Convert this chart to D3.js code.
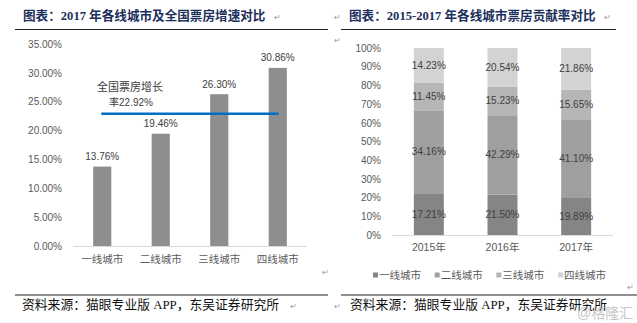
<!DOCTYPE html>
<html><head><meta charset="utf-8">
<script src="https://cdn.jsdelivr.net/npm/d3@7"></script>
<style>
html,body{margin:0;padding:0;background:#fff;}
svg{display:block;}
text{font-family:"Liberation Sans","Noto Sans CJK SC",sans-serif;}
</style></head>
<body>
<svg id="c" width="637" height="323"></svg>
<script>
// ---- data ----
const leftCategories = ["一线城市", "二线城市", "三线城市", "四线城市"];
const leftValues = [13.76, 19.46, 26.30, 30.86];
const nationalGrowth = 22.92;
const nationalLabel = ["全国票房增长", "率22.92%"];
const leftTicks = [0, 5, 10, 15, 20, 25, 30, 35];

const years = ["2015年", "2016年", "2017年"];
const seriesNames = ["一线城市", "二线城市", "三线城市", "四线城市"];
const tier1 = [17.21, 21.50, 19.89];
const tier2 = [34.16, 42.29, 41.10];
const tier3 = [11.45, 15.23, 15.65];
const tier4 = [14.23, 20.54, 21.86];
const rightTicks = [0, 10, 20, 30, 40, 50, 60, 70, 80, 90, 100];

const leftTitle = "图表：2017 年各线城市及全国票房增速对比";
const rightTitle = "图表：2015-2017 年各线城市票房贡献率对比";
const sourceText = "资料来源：猫眼专业版 APP，东吴证券研究所";
const watermark = "@格隆汇";

// ---- styles ----
const seriesColors = ["#858585", "#9f9f9f", "#b6b6b6", "#d3d3d3"];
const leftBarColor = "#8e8e8e";
const lineColor = "#0070c0";
const axisTextColor = "#595959";
const titleColor = "#1c2f5c";

const svg = d3.select("#c");

// ---- headers / footers ----
function header(x, title, lineX1, lineX2) {
  svg.append("text").attr("x", x).attr("y", 16).attr("dominant-baseline", "central")
    .attr("font-size", 12.6).attr("font-weight", "bold").attr("fill", titleColor)
    .style("font-family", '"Liberation Serif","Noto Sans CJK SC",serif')
    .text(title);
  svg.append("line").attr("x1", lineX1).attr("x2", lineX2).attr("y1", 29.5).attr("y2", 29.5)
    .attr("stroke", "#222").attr("stroke-width", 1.2);
}
function footer(x, lineX1, lineX2) {
  svg.append("line").attr("x1", lineX1).attr("x2", lineX2).attr("y1", 295).attr("y2", 295)
    .attr("stroke", "#222").attr("stroke-width", 1.2);
  svg.append("text").attr("x", x).attr("y", 305).attr("dominant-baseline", "central")
    .attr("font-size", 12.8).attr("fill", "#111")
    .style("font-family", '"Liberation Serif","Noto Sans CJK SC",serif')
    .text(sourceText);
}
function mark(x, y) {
  svg.append("text").attr("x", x).attr("y", y).attr("dominant-baseline", "central")
    .attr("font-size", 8).attr("fill", "#999").text("↵");
}
header(23, leftTitle, 15, 328);
header(349, rightTitle, 341, 616);
footer(22, 15, 328);
footer(350, 341, 637);
mark(274, 17); mark(604, 17); mark(334, 17); mark(334, 40);
mark(290, 306); mark(334, 306); mark(322, 272); mark(627, 287);

// ---- left chart ----
const yL = d3.scaleLinear().domain([0, 35]).range([246, 44]);
const xL = d3.scaleBand().domain(leftCategories).range([73, 307]).paddingInner(0.69).paddingOuter(0.345);
const gL = svg.append("g");

const axL = d3.axisLeft(yL).tickValues(leftTicks).tickSize(0).tickPadding(11)
  .tickFormat(d => d.toFixed(2) + "%");
gL.append("g").attr("transform", "translate(73,0)").call(axL)
  .call(g => g.select(".domain").remove())
  .selectAll("text").attr("font-size", 10).attr("fill", axisTextColor)
  .style("font-family", '"Liberation Sans",sans-serif');

gL.append("line").attr("x1", 73).attr("x2", 307).attr("y1", yL(0) + 0.5).attr("y2", yL(0) + 0.5)
  .attr("stroke", "#d9d9d9").attr("stroke-width", 1);

const axLb = d3.axisBottom(xL).tickSize(0).tickPadding(10);
gL.append("g").attr("transform", `translate(0,${yL(0)})`).call(axLb)
  .call(g => g.select(".domain").remove())
  .selectAll("text").attr("font-size", 10.5).attr("fill", axisTextColor);

gL.selectAll("rect.bar").data(leftValues).join("rect").attr("class", "bar")
  .attr("x", (d, i) => xL(leftCategories[i])).attr("width", xL.bandwidth())
  .attr("y", d => yL(d)).attr("height", d => yL(0) - yL(d))
  .attr("fill", leftBarColor);

gL.selectAll("text.lab").data(leftValues).join("text").attr("class", "lab")
  .attr("x", (d, i) => xL(leftCategories[i]) + xL.bandwidth() / 2)
  .attr("y", d => yL(d) - 10).attr("text-anchor", "middle").attr("dominant-baseline", "central")
  .attr("font-size", 10).attr("fill", "#404040").text(d => d.toFixed(2) + "%");

const c0 = xL(leftCategories[0]) + xL.bandwidth() / 2 - 1;
const c3 = xL(leftCategories[3]) + xL.bandwidth() / 2 + 1;
gL.append("line").attr("x1", c0).attr("x2", c3).attr("y1", yL(nationalGrowth)).attr("y2", yL(nationalGrowth))
  .attr("stroke", lineColor).attr("stroke-width", 2.5);
gL.append("text").attr("x", 130).attr("y", 87).attr("text-anchor", "middle").attr("dominant-baseline", "central")
  .attr("font-size", 11).attr("fill", "#404040").text(nationalLabel[0]);
gL.append("text").attr("x", 131).attr("y", 102).attr("text-anchor", "middle").attr("dominant-baseline", "central")
  .attr("font-size", 10).attr("fill", "#404040").text(nationalLabel[1]);

// ---- right chart ----
const rows = years.map((y, i) => ({ year: y, s0: tier1[i], s1: tier2[i], s2: tier3[i], s3: tier4[i] }));
const keys = ["s0", "s1", "s2", "s3"];
const stacked = d3.stack().keys(keys).offset(d3.stackOffsetExpand)(rows);

const yR = d3.scaleLinear().domain([0, 1]).range([235, 48]);
const xR = d3.scaleBand().domain(years).range([392, 613]).paddingInner(0.593).paddingOuter(0.2965);
const gR = svg.append("g");

gR.append("g").attr("transform", "translate(392,0)")
  .call(d3.axisLeft(yR).tickValues(rightTicks.map(d => d / 100)).tickSize(0).tickPadding(11)
    .tickFormat(d => Math.round(d * 100) + "%"))
  .call(g => g.select(".domain").remove())
  .selectAll("text").attr("font-size", 10).attr("fill", axisTextColor)
  .style("font-family", '"Liberation Sans",sans-serif');

gR.append("line").attr("x1", 392).attr("x2", 613).attr("y1", yR(0) + 0.5).attr("y2", yR(0) + 0.5)
  .attr("stroke", "#d9d9d9");

gR.append("g").attr("transform", `translate(0,${yR(0)})`)
  .call(d3.axisBottom(xR).tickSize(0).tickPadding(9))
  .call(g => g.select(".domain").remove())
  .selectAll("text").attr("font-size", 10.5).attr("fill", axisTextColor);

const layers = gR.selectAll("g.layer").data(stacked).join("g").attr("class", "layer")
  .attr("fill", (d, i) => seriesColors[i]);
layers.selectAll("rect").data(d => d).join("rect")
  .attr("x", d => xR(d.data.year)).attr("width", xR.bandwidth())
  .attr("y", d => yR(d[1])).attr("height", d => yR(d[0]) - yR(d[1]));
layers.selectAll("text").data((d, i) => d.map(v => ({ v, key: keys[i] }))).join("text")
  .attr("x", d => xR(d.v.data.year) + xR.bandwidth() / 2)
  .attr("y", d => (yR(d.v[0]) + yR(d.v[1])) / 2)
  .attr("text-anchor", "middle").attr("dominant-baseline", "central")
  .attr("font-size", 10).attr("fill", "#404040")
  .text(d => d.v.data[d.key].toFixed(2) + "%");

// legend
const legendX = d3.scalePoint().domain(seriesNames).range([373, 558]);
const lg = svg.append("g").selectAll("g").data(seriesNames).join("g")
  .attr("transform", d => `translate(${legendX(d)},275)`);
lg.append("rect").attr("x", 0).attr("y", -2.5).attr("width", 5).attr("height", 5)
  .attr("fill", (d, i) => seriesColors[i]);
lg.append("text").attr("x", 6).attr("y", 0).attr("dominant-baseline", "central")
  .attr("font-size", 10.5).attr("fill", axisTextColor).text(d => d);

// watermark (semi-transparent, overlaps the source line as in the reference)
svg.append("text").attr("x", 577).attr("y", 313).attr("dominant-baseline", "central")
  .attr("font-size", 14).attr("fill", "#b8b8b8").attr("opacity", 0.8).text(watermark);
</script>
</body></html>
